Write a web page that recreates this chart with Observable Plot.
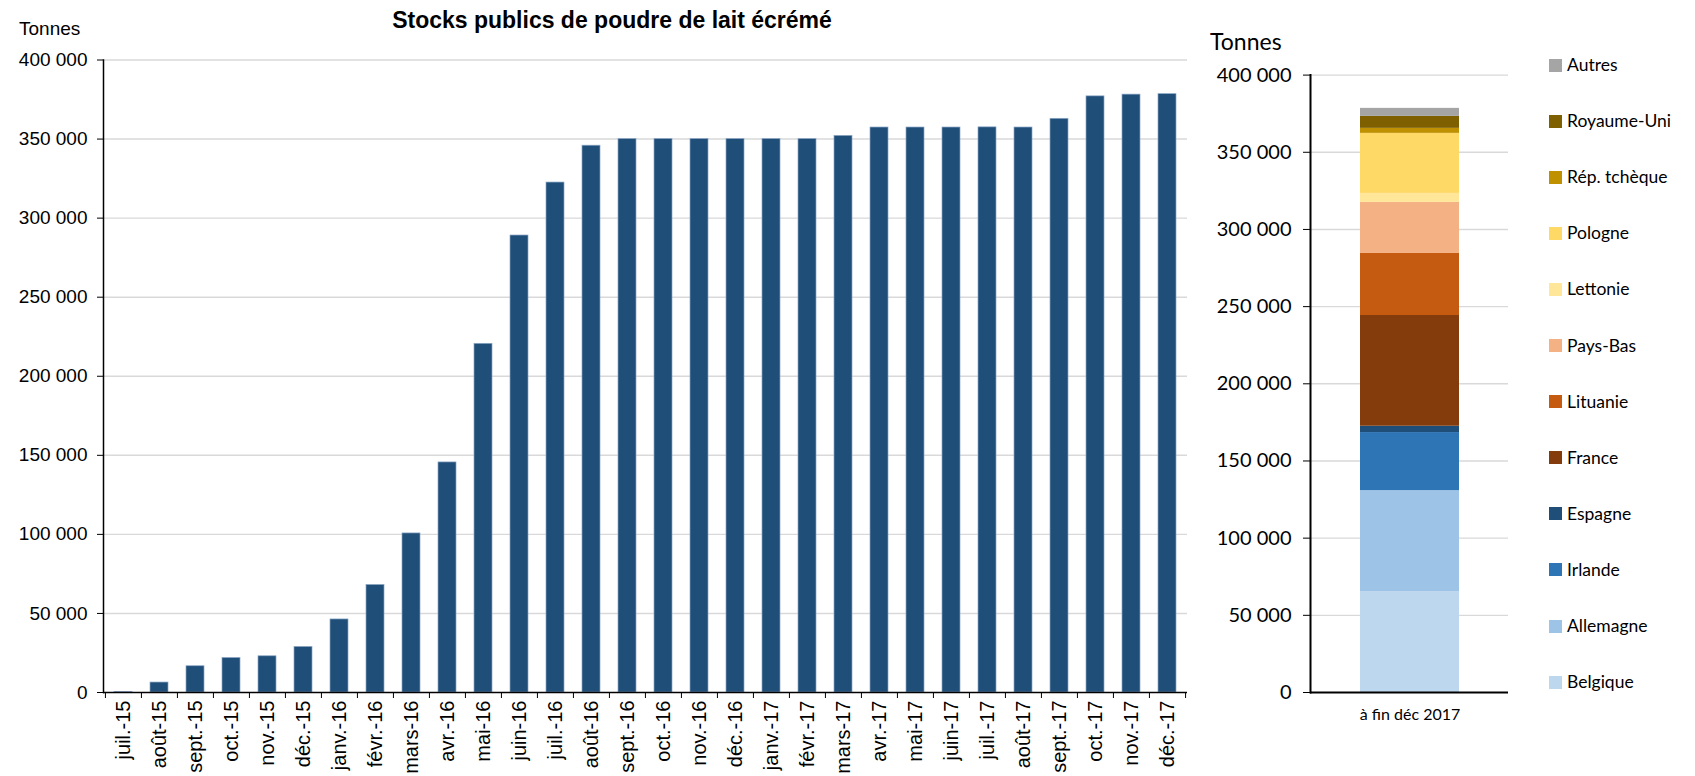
<!DOCTYPE html>
<html><head><meta charset="utf-8">
<script src="https://cdn.jsdelivr.net/npm/d3@7"></script>
<script src="https://cdn.jsdelivr.net/npm/@observablehq/plot@0.6"></script>
<style>
body{margin:0;background:#fff;}
#wrap{position:relative;width:1695px;height:776px;overflow:hidden;background:#fff;}
.abs{position:absolute;white-space:nowrap;}
</style></head><body><div id="wrap"></div>
<script>
// ---- Data ----
const months = ["juil.-15","août-15","sept.-15","oct.-15","nov.-15","déc.-15",
  "janv.-16","févr.-16","mars-16","avr.-16","mai-16","juin-16","juil.-16","août-16","sept.-16","oct.-16","nov.-16","déc.-16",
  "janv.-17","févr.-17","mars-17","avr.-17","mai-17","juin-17","juil.-17","août-17","sept.-17","oct.-17","nov.-17","déc.-17"];
const stocks = [400, 6300, 16600, 21800, 22900, 28800,
  46200, 68000, 100600, 145500, 220500, 289000, 322500, 345800, 350000, 350000, 350000, 350000,
  350000, 350000, 352000, 357300, 357300, 357300, 357400, 357300, 362800, 377000, 378100, 378400];

const stackCategory = ["à fin déc 2017"];
const countries = ["Belgique","Allemagne","Irlande","Espagne","France","Lituanie","Pays-Bas","Lettonie","Pologne","Rép. tchèque","Royaume-Uni","Autres"];
const countryValues = [65300, 65500, 37600, 4100, 71750, 40200, 33100, 5800, 38900, 3250, 7750, 5200];
const countryColors = ["#BDD7EE","#9DC3E6","#2E75B6","#1F4E79","#843C0C","#C55A11","#F4B183","#FFE699","#FFD966","#BF9000","#7F6000","#A5A5A5"];

const yTicks = [0, 50000, 100000, 150000, 200000, 250000, 300000, 350000, 400000];

const fmt = d => d3.format(",")(d).replace(/,/g, " ");

const wrap = document.getElementById("wrap");
function addText(txt, style) {
  const d = document.createElement("div");
  d.className = "abs";
  d.textContent = txt;
  Object.assign(d.style, style);
  wrap.appendChild(d);
  return d;
}

// ---- Left chart ----
const monthData = months.map((m, i) => ({month: m, value: stocks[i]}));
const LW = 1200, LML = 103, LMR = 13;
const step = (LW - LML - LMR) / months.length;

const left = Plot.plot({
  width: LW, height: 776,
  marginLeft: LML, marginRight: LMR, marginTop: 59.5, marginBottom: 84,
  style: {fontFamily: "'Liberation Sans', Arial, sans-serif", fontSize: "19px", color: "#000", background: "transparent", overflow: "visible"},
  x: {domain: months, paddingInner: 0.5, paddingOuter: 0.25, label: null},
  y: {domain: [0, 400000], label: null},
  marks: [
    Plot.gridY(yTicks.slice(1), {stroke: "#d9d9d9", strokeOpacity: 1, strokeWidth: 1.4}),
    Plot.barY(monthData, {x: "month", y: "value", fill: "#1F4E79", stroke: "#8aa6c4", strokeWidth: 0.7}),
    Plot.axisY(yTicks, {tickFormat: fmt, tickSize: 6, tickPadding: 10, label: null, stroke: "#000", fontSize: 19}),
    Plot.axisX({tickRotate: -90, tickSize: 0, tickPadding: 8, label: null, fontSize: 20}),
    Plot.ruleX(months, {x: d => d, y1: 0, y2: 0, insetBottom: -6, dx: -step / 2, stroke: "#000"}),
    Plot.ruleX(months.slice(-1), {x: d => d, y1: 0, y2: 0, insetBottom: -6, dx: step / 2, stroke: "#000"}),
    Plot.ruleY([0], {stroke: "#000", strokeWidth: 1.5}),
    Plot.frame({anchor: "left", stroke: "#000", strokeWidth: 1.5})
  ]
});
left.style.position = "absolute";
left.style.left = "0px";
left.style.top = "0px";
wrap.appendChild(left);

// ---- Right chart ----
const stackData = countries.map((c, i) => ({cat: stackCategory[0], country: c, value: countryValues[i]}));
const right = Plot.plot({
  width: 495, height: 776,
  marginLeft: 110, marginRight: 187, marginTop: 74.6, marginBottom: 84,
  style: {fontFamily: "Lato, 'Open Sans', sans-serif", fontSize: "20px", color: "#000", background: "transparent", overflow: "visible"},
  x: {domain: stackCategory, paddingInner: 0.5, paddingOuter: 0.25, label: null},
  y: {domain: [0, 400000], label: null},
  color: {domain: countries, range: countryColors},
  marks: [
    Plot.gridY(yTicks.slice(1), {stroke: "#d9d9d9", strokeOpacity: 1, strokeWidth: 1.4}),
    Plot.barY(stackData, {x: "cat", y: "value", fill: "country"}),
    Plot.axisY(yTicks, {tickFormat: fmt, tickSize: 7, tickPadding: 12, label: null, stroke: "#000", fontSize: 20}),
    Plot.axisX({tickSize: 0, tickPadding: 16, label: null, fontSize: 16}),
    Plot.ruleY([0], {stroke: "#000", strokeWidth: 2}),
    Plot.frame({anchor: "left", stroke: "#000", strokeWidth: 2})
  ]
});
right.style.position = "absolute";
right.style.left = "1200px";
right.style.top = "0px";
wrap.appendChild(right);

// ---- Titles ----
addText("Stocks publics de poudre de lait écrémé", {
  left: "612px", top: "7px", transform: "translateX(-50%)",
  font: "bold 23px 'Liberation Sans', Arial, sans-serif", color: "#000"});
addText("Tonnes", {left: "19px", top: "18px", font: "19px 'Liberation Sans', Arial, sans-serif", color: "#000"});
addText("Tonnes", {left: "1210px", top: "27px", font: "23px Lato, sans-serif", color: "#000"});

// ---- Legend ----
countries.slice().reverse().forEach((c, i) => {
  const ci = countries.indexOf(c);
  const cy = 65 + i * 56.1;
  const sw = document.createElement("div");
  sw.className = "abs";
  Object.assign(sw.style, {left: "1549px", top: (cy - 6.5) + "px", width: "13px", height: "13px", background: countryColors[ci]});
  wrap.appendChild(sw);
  addText(c, {left: "1567px", top: (cy - 12) + "px", font: "17.5px Lato, sans-serif", color: "#000", lineHeight: "24px"});
});
</script></body></html>
